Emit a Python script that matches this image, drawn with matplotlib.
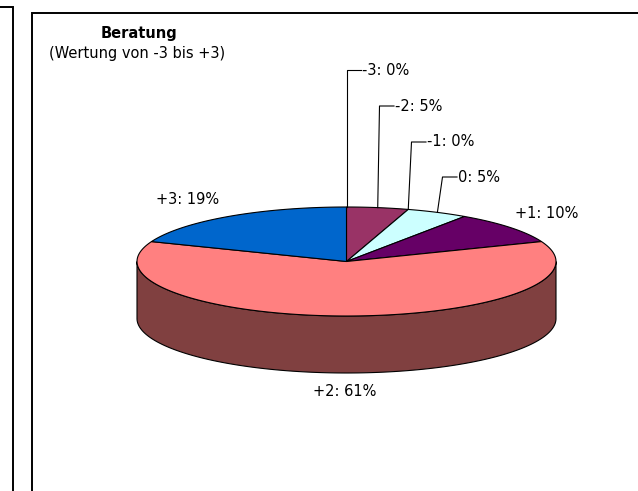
import numpy as np
import matplotlib.pyplot as plt
from matplotlib.patches import Polygon

# Daten: Beratung (Wertung von -3 bis +3)
kategorien = ['-3', '-2', '-1', '0', '+1', '+2', '+3']
anzahl = [0, 1, 0, 1, 2, 13, 4]
prozent_text = ['0%', '5%', '0%', '5%', '10%', '61%', '19%']
farben = ['#9999FF', '#993366', '#FFFFCC', '#CCFFFF', '#660066', '#FF8080', '#0066CC']

# Geometrie der 3D-Torte (Pixel)
cx, cy = 346.5, 261.5
a, b = 209.5, 54.5
tiefe = 57

# Beschriftungspositionen (Pixel)
label_pos = {
    '-3': (362, 70, 'left'),
    '-2': (395, 106, 'left'),
    '-1': (427, 142, 'left'),
    '0': (458, 177, 'left'),
    '+1': (547, 213, 'center'),
    '+2': (345, 391, 'center'),
    '+3': (188, 200, 'center'),
}
mit_linie = ['-3', '-2', '-1', '0']


def punkt(theta_deg, dy=0.0):
    t = np.radians(theta_deg)
    return cx + a * np.sin(t), cy - b * np.cos(t) + dy


def dunkler(farbe, f=0.5):
    r, g, bl = [int(farbe[i:i + 2], 16) / 255 for i in (1, 3, 5)]
    return (r * f, g * f, bl * f)


fig = plt.figure(figsize=(6.38, 4.91), dpi=100)
ax = fig.add_axes([0, 0, 1, 1])
ax.set_xlim(0, 638)
ax.set_ylim(491, 0)
ax.axis('off')

# Rahmen
ax.plot([0, 13, 13], [6.5, 6.5, 491], color='black', lw=1.4, solid_joinstyle='miter')
ax.plot([32, 32, 638], [491, 13, 13], color='black', lw=1.4, solid_joinstyle='miter')

# Titel
ax.text(139, 33, 'Beratung', ha='center', va='center', fontsize=10.5, fontweight='bold')
ax.text(49, 53, '(Wertung von -3 bis +3)', ha='left', va='center', fontsize=10.5)

gesamt = sum(anzahl)
grenzen = np.concatenate([[0], np.cumsum(anzahl) / gesamt * 360])

# Seitenflächen (vordere Hälfte, 90..270 Grad)
for i, farbe in enumerate(farben):
    t0, t1 = max(grenzen[i], 90), min(grenzen[i + 1], 270)
    if t1 <= t0:
        continue
    th = np.linspace(t0, t1, 200)
    oben = [punkt(t) for t in th]
    unten = [punkt(t, tiefe) for t in th[::-1]]
    ax.add_patch(Polygon(oben + unten, closed=True, facecolor=dunkler(farbe),
                         edgecolor='black', lw=0.8))

# Deckfläche
for i, farbe in enumerate(farben):
    t0, t1 = grenzen[i], grenzen[i + 1]
    if t1 <= t0:
        continue
    th = np.linspace(t0, t1, 200)
    pts = [(cx, cy)] + [punkt(t) for t in th]
    ax.add_patch(Polygon(pts, closed=True, facecolor=farbe, edgecolor='black', lw=0.8))

# Beschriftungen
for i, kat in enumerate(kategorien):
    x, y, ha = label_pos[kat]
    ax.text(x, y, f'{kat}: {prozent_text[i]}', ha=ha, va='center', fontsize=10.5)
    if kat in mit_linie:
        mitte = (grenzen[i] + grenzen[i + 1]) / 2
        px, py = punkt(mitte)
        ex = x - 15.5
        ax.plot([px, ex, x - 1], [py, y, y], color='black', lw=0.8)

fig.savefig('out.png', dpi=100)
